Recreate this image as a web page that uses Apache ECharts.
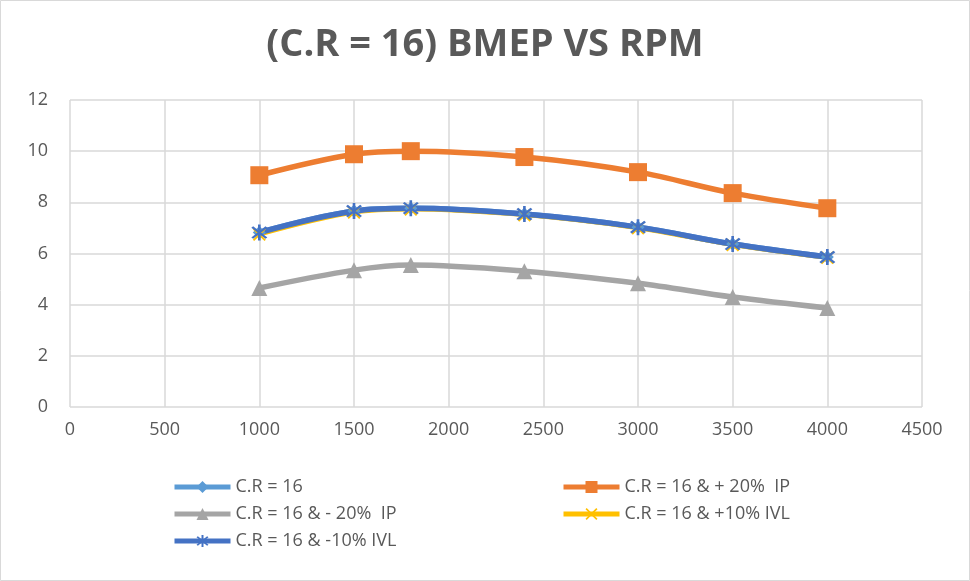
<!DOCTYPE html>
<html><head><meta charset="utf-8">
<script src="https://cdn.jsdelivr.net/npm/echarts@6/dist/echarts.min.js"></script>
<style>html,body{margin:0;padding:0;background:#fff}#c{width:970px;height:581px}</style>
</head><body><div id="c"></div>
<script>
const rpm = [1000, 1500, 1800, 2400, 3000, 3500, 4000];
const cr16 = [6.82, 7.66, 7.77, 7.54, 7.03, 6.37, 5.86];
const ip20plus = [9.06, 9.88, 10.0, 9.77, 9.18, 8.36, 7.77];
const ip20minus = [4.65, 5.35, 5.55, 5.31, 4.84, 4.30, 3.87];
const ivl10plus = [6.74, 7.60, 7.72, 7.50, 6.99, 6.33, 5.83];
const ivl10minus = [6.82, 7.66, 7.77, 7.54, 7.03, 6.37, 5.86];
const names = ['C.R = 16', 'C.R = 16 & + 20%  IP', 'C.R = 16 & - 20%  IP', 'C.R = 16 & +10% IVL', 'C.R = 16 & -10% IVL'];
const xTicks = {min: 0, max: 4500, step: 500};
const yTicks = {min: 0, max: 12, step: 2};

const asterisk = 'path://M-1.3,-10L1.3,-10L1.3,10L-1.3,10Z M-7.9,-6.1L-6.1,-7.9L7.9,6.1L6.1,7.9Z M6.1,-7.9L7.9,-6.1L-6.1,7.9L-7.9,6.1Z';
const xmark = 'path://M-7.9,-6.3L-6.3,-7.9L7.9,6.3L6.3,7.9Z M6.3,-7.9L7.9,-6.3L-6.3,7.9L-7.9,6.3Z';

function pairs(arr){ return rpm.map((r,i)=>[r, arr[i]]); }
function mk(name, data, color, symbol, size, w){
  return {name, type:'line', data: pairs(data), smooth: 0.35, symbol, symbolSize: size,
    lineStyle:{color, width:w}, itemStyle:{color}, emphasis:{disabled:true}};
}
const chart = echarts.init(document.getElementById('c'));
const font = '"Open Sans", "Liberation Sans", sans-serif';
const legendBase = {itemWidth: 56, itemHeight: 15, textStyle:{fontFamily: font, fontSize: 18, color:'#595959'}, itemGap: 2,
  lineStyle:{width:5}};
chart.setOption({
  animation:false,
  backgroundColor:'#fff',
  title:{text:'(C.R = 16) BMEP VS RPM', left:'center', top:21,
    textStyle:{fontFamily: font, fontWeight:'bold', fontSize:38, color:'#595959'}},
  graphic:[{type:'rect', shape:{x:0.5,y:0.5,width:969,height:580}, style:{fill:'none', stroke:'#D9D9D9', lineWidth:1}, silent:true}],
  grid:{left:70, right:48, top:100, bottom:174, containLabel:false},
  xAxis:{type:'value', min:xTicks.min, max:xTicks.max, interval:xTicks.step,
    axisLine:{show:false}, axisTick:{show:false},
    axisLabel:{fontFamily: font, fontSize:18, color:'#595959', margin:14, formatter: v => String(v)},
    splitLine:{show:true, lineStyle:{color:'#D9D9D9', width:1.5}}},
  yAxis:{type:'value', min:yTicks.min, max:yTicks.max, interval:yTicks.step,
    axisLine:{show:false}, axisTick:{show:false},
    axisLabel:{fontFamily: font, fontSize:18, color:'#595959', margin:22},
    splitLine:{show:true, lineStyle:{color:'#D9D9D9', width:1.5}}},
  legend:[
    Object.assign({data:[names[0]], left:167, top:473}, legendBase),
    Object.assign({data:[names[1]], left:556, top:473}, legendBase),
    Object.assign({data:[names[2]], left:167, top:500}, legendBase),
    Object.assign({data:[names[3]], left:556, top:500}, legendBase),
    Object.assign({data:[names[4]], left:167, top:527}, legendBase)
  ],
  series:[
    mk(names[0], cr16, '#5B9BD5', 'diamond', 13, 5.5),
    mk(names[1], ip20plus, '#ED7D31', 'rect', 18, 5.5),
    mk(names[2], ip20minus, '#A5A5A5', 'triangle', 16, 5.5),
    mk(names[3], ivl10plus, '#FFC000', xmark, 13, 4),
    mk(names[4], ivl10minus, '#4472C4', asterisk, 16, 5.5)
  ]
});
</script></body></html>
